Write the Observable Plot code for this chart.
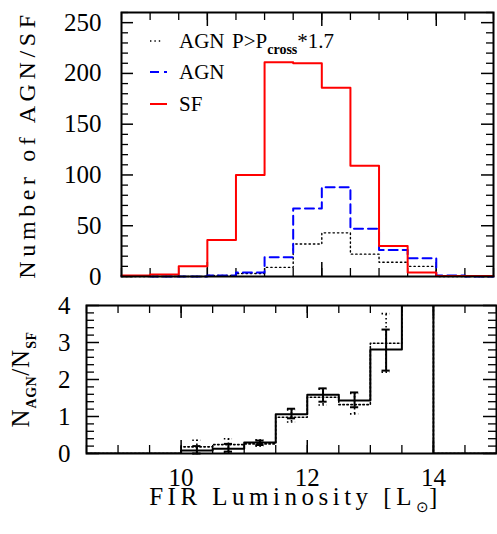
<!DOCTYPE html>
<html>
<head>
<meta charset="utf-8">
<script src="https://cdn.jsdelivr.net/npm/d3@7"></script>
<script src="https://cdn.jsdelivr.net/npm/@observablehq/plot@0.6"></script>
<style>
  body { margin: 0; background: white; }
  svg { display: block; }
  svg text { font-family: "Liberation Serif", "Times New Roman", serif; }
</style>
</head>
<body>
<div id="chart"></div>
<script>
// ---- Data ----
const binStart = [8.5, 9, 9.5, 10, 10.5, 11, 11.5, 12, 12.5, 13, 13.5, 14, 14.5];
const binEnd = 15;
// top panel: number counts per bin
const sfCounts   = [1, 2, 10, 36, 100, 211, 210, 186, 109, 30, 4, 0.5, 0.5];
const agnCounts  = [0.5, 0, 0, 1, 4, 19, 67, 88, 47, 26, 18, 1, 0];
const agnPCounts = [0, 0, 0, 1, 3, 9, 32, 43, 22, 14, 10, 0, 0];
// bottom panel: N_AGN / N_SF per bin (13.5-14 bin runs off the top)
const ratioAll = [0, 0, 0, 0.08, 0.13, 0.30, 1.06, 1.59, 1.43, 2.81, 5, 0, 0];
const ratioP   = [0, 0, 0, 0.18, 0.24, 0.26, 0.98, 1.52, 1.32, 2.98, 5, 0, 0];
// error bars at bin centres
const errCentre = [10.25, 10.75, 11.25, 11.75, 12.25, 12.75, 13.25];
const errAllLo  = [0.00, 0.05, 0.23, 0.95, 1.40, 1.25, 2.24];
const errAllHi  = [0.20, 0.26, 0.35, 1.21, 1.76, 1.65, 3.35];
const errPLo    = [0.00, 0.03, 0.20, 0.85, 1.31, 1.07, 2.20];
const errPHi    = [0.36, 0.40, 0.37, 1.18, 1.74, 1.62, 3.78];
// ticks
const xMajor = [10, 12, 14];
const xMinor = [8.5, 9, 9.5, 10, 10.5, 11, 11.5, 12, 12.5, 13, 13.5, 14, 14.5, 15];
const topYMajor = [0, 50, 100, 150, 200, 250];
const topYMinor = [10, 20, 30, 40, 60, 70, 80, 90, 110, 120, 130, 140, 160, 170, 180, 190, 210, 220, 230, 240, 260];
const botYMajor = [0, 1, 2, 3, 4];
const botYMinor = [0.2, 0.4, 0.6, 0.8, 1.2, 1.4, 1.6, 1.8, 2.2, 2.4, 2.6, 2.8, 3.2, 3.4, 3.6, 3.8];
// legend
const legendLabels = ["AGN", "P>P", "cross", "*1.7", "AGN", "SF"];

// ---- helpers ----
function steps(values) {
  return binStart.map((x, i) => ({x, y: values[i]}))
    .concat([{x: binEnd, y: values[values.length - 1]}]);
}
function ticksY(values, len, W, sw) {
  return [
    Plot.tickY(values, {y: d => d, insetRight: W - len, stroke: "black", strokeWidth: sw}),
    Plot.tickY(values, {y: d => d, insetLeft: W - len, stroke: "black", strokeWidth: sw})
  ];
}
function ticksX(values, len, H, sw) {
  return [
    Plot.tickX(values, {x: d => d, insetTop: H - len, stroke: "black", strokeWidth: sw}),
    Plot.tickX(values, {x: d => d, insetBottom: H - len, stroke: "black", strokeWidth: sw})
  ];
}
const SERIF = "Liberation Serif";

// ---- top panel ----
const T = {w: 497, h: 290, ml: 121, mr: 4, mt: 12, mb: 14};
const TW = T.w - T.ml - T.mr, TH = T.h - T.mt - T.mb;
const topSvg = Plot.plot({
  width: T.w, height: T.h,
  marginLeft: T.ml, marginRight: T.mr, marginTop: T.mt, marginBottom: T.mb,
  style: {fontFamily: SERIF, fontSize: "25px", color: "black", background: "white"},
  x: {domain: [8.5, 15], axis: null},
  y: {domain: [0, 260]},
  marks: [
    ...ticksY(topYMinor, 7, TW, 1.3),
    ...ticksY(topYMajor, 12, TW, 1.5),
    ...ticksX(xMinor, 8, TH, 1.3),
    ...ticksX(xMajor, 14, TH, 1.5),
    Plot.axisY(topYMajor, {anchor: "left", tickSize: 0, tickPadding: 20, label: null, fontSize: 25, fontFamily: SERIF}),
    Plot.line(steps(agnPCounts), {x: "x", y: "y", curve: "step-after", stroke: "black", strokeWidth: 1.4, strokeDasharray: "1.4,3"}),
    Plot.line(steps(agnCounts), {x: "x", y: "y", curve: "step-after", stroke: "#0000ff", strokeWidth: 2, strokeDasharray: "9,5"}),
    Plot.line(steps(sfCounts), {x: "x", y: "y", curve: "step-after", stroke: "#ff0000", strokeWidth: 2}),
    Plot.text(["Number of AGN/SF"], {frameAnchor: "left", textAnchor: "middle", rotate: -90, dx: -94, fontSize: 24, fontFamily: SERIF}),
    Plot.frame({stroke: "black", strokeWidth: 2})
  ]
});

// ---- bottom panel ----
const B = {w: 497, h: 244, ml: 86, mr: 1, mt: 15, mb: 81};
const BW = B.w - B.ml - B.mr, BH = B.h - B.mt - B.mb;
const errAll = errCentre.map((x, i) => ({x, lo: errAllLo[i], hi: errAllHi[i]}));
const errP = errCentre.map((x, i) => ({x, lo: errPLo[i], hi: errPHi[i]}));
const capHalf = 0.065;
const botSvg = Plot.plot({
  width: B.w, height: B.h,
  marginLeft: B.ml, marginRight: B.mr, marginTop: B.mt, marginBottom: B.mb,
  style: {fontFamily: SERIF, fontSize: "25px", color: "black", background: "white"},
  x: {domain: [8.5, 15]},
  y: {domain: [0, 4]},
  marks: [
    ...ticksY(botYMinor, 8, BW, 1.3),
    ...ticksY(botYMajor, 13, BW, 1.5),
    ...ticksX(xMinor, 8, BH, 1.3),
    ...ticksX(xMajor, 13, BH, 1.5),
    Plot.axisY(botYMajor, {anchor: "left", tickSize: 0, tickPadding: 16, label: null, fontSize: 25, fontFamily: SERIF}),
    Plot.axisX(xMajor, {anchor: "bottom", tickSize: 0, tickPadding: 15, label: null, fontSize: 25, fontFamily: SERIF}),
    // dotted sample
    Plot.line(steps(ratioP), {x: "x", y: "y", curve: "step-after", stroke: "black", strokeWidth: 1.6, strokeDasharray: "1.5,2.5", clip: true}),
    Plot.ruleX(errP, {x: "x", y1: "lo", y2: "hi", stroke: "black", strokeWidth: 1.6, strokeDasharray: "1.5,2.5", clip: true}),
    Plot.ruleY(errP, {y: "lo", x1: d => d.x - capHalf, x2: d => d.x + capHalf, stroke: "black", strokeWidth: 1.6, strokeDasharray: "1.5,2.5"}),
    Plot.ruleY(errP, {y: "hi", x1: d => d.x - capHalf, x2: d => d.x + capHalf, stroke: "black", strokeWidth: 1.6, strokeDasharray: "1.5,2.5"}),
    // full sample
    Plot.line(steps(ratioAll), {x: "x", y: "y", curve: "step-after", stroke: "black", strokeWidth: 2, clip: true}),
    Plot.ruleX(errAll, {x: "x", y1: "lo", y2: "hi", stroke: "black", strokeWidth: 2}),
    Plot.ruleY(errAll, {y: "lo", x1: d => d.x - capHalf, x2: d => d.x + capHalf, stroke: "black", strokeWidth: 2}),
    Plot.ruleY(errAll, {y: "hi", x1: d => d.x - capHalf, x2: d => d.x + capHalf, stroke: "black", strokeWidth: 2}),
    Plot.text(["N_AGN/N_SF"], {frameAnchor: "left", textAnchor: "middle", rotate: -90, dx: -66, fontSize: 25, fontFamily: SERIF}),
    Plot.text(["FIR Luminosity [L]"], {frameAnchor: "bottom", textAnchor: "middle", dx: 4, dy: 51, fontSize: 25, fontFamily: SERIF}),
    Plot.frame({stroke: "black", strokeWidth: 2})
  ]
});

// ---- rich text post-processing ----
function rich(svg, match, parts, spacing) {
  d3.select(svg).selectAll("text").filter(function() { return this.textContent === match; })
    .each(function() {
      const t = d3.select(this);
      t.text(null);
      if (spacing) t.style("letter-spacing", spacing + "px");
      let shift = 0;
      parts.forEach(p => {
        const ts = t.append("tspan").text(p.t);
        const want = p.sub ? p.sub : 0;
        if (want !== shift) { ts.attr("dy", want - shift); shift = want; }
        if (p.size) ts.style("font-size", p.size + "px");
        if (p.bold) ts.style("font-weight", "bold");
        if (p.ls !== undefined) ts.style("letter-spacing", p.ls + "px");
      });
    });
}
rich(topSvg, "Number of AGN/SF", [{t: "Number of AGN/SF"}], 4.6);
rich(botSvg, "N_AGN/N_SF", [
  {t: "N"}, {t: "AGN", sub: 7, size: 14, bold: true, ls: 0.5},
  {t: "/N"}, {t: "SF", sub: 7, size: 14, bold: true, ls: 0.5}
], 1);
rich(botSvg, "FIR Luminosity [L]", [
  {t: "FIR Luminosity [L"}, {t: "\u2299", sub: 7, size: 15, ls: 0}, {t: "]"}
], 4.5);

// ---- legend inside top panel ----
const lg = d3.select(topSvg).append("g")
  .attr("font-family", SERIF).attr("font-size", 21).attr("text-anchor", "start");
const rowsY = [41, 72, 104];
lg.append("line").attr("x1", 150).attr("x2", 163).attr("y1", rowsY[0]).attr("y2", rowsY[0])
  .attr("stroke", "black").attr("stroke-width", 1.3).attr("stroke-dasharray", "1.4,3");
lg.append("line").attr("x1", 150).attr("x2", 167).attr("y1", rowsY[1]).attr("y2", rowsY[1])
  .attr("stroke", "#0000ff").attr("stroke-width", 2).attr("stroke-dasharray", "9,5");
lg.append("line").attr("x1", 150).attr("x2", 167).attr("y1", rowsY[2]).attr("y2", rowsY[2])
  .attr("stroke", "#ff0000").attr("stroke-width", 2);
const t0 = lg.append("text").attr("x", 179).attr("y", rowsY[0] + 7);
t0.append("tspan").text(legendLabels[0]);
t0.append("tspan").attr("x", 232).text(legendLabels[1]);
t0.append("tspan").attr("dy", 6).style("font-size", "14px").style("font-weight", "bold").text(legendLabels[2]);
t0.append("tspan").attr("dy", -6).text(legendLabels[3]);
lg.append("text").attr("x", 179).attr("y", rowsY[1] + 7).text(legendLabels[4]);
lg.append("text").attr("x", 179).attr("y", rowsY[2] + 7).text(legendLabels[5]);

const root = document.getElementById("chart");
root.appendChild(topSvg);
root.appendChild(botSvg);
</script>
</body>
</html>
